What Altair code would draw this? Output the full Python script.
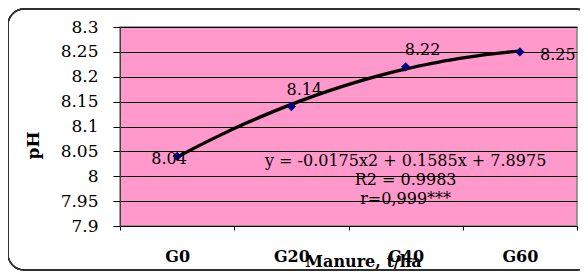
import altair as alt
import pandas as pd

categories = ["G0", "G20", "G40", "G60"]
ph_values = [8.04, 8.14, 8.22, 8.25]
label_texts = ["8.04", "8.14", "8.22", "8.25"]
y_ticks = [7.9, 7.95, 8.0, 8.05, 8.1, 8.15, 8.2, 8.25, 8.3]
annotation_lines = ["y = -0.0175x2 + 0.1585x + 7.8975", "R2 = 0.9983", "r=0,999***"]

df = pd.DataFrame({
    "cat": categories,
    "xi": list(range(1, len(categories) + 1)),
    "ph": ph_values,
    "lab": label_texts,
})
ann = pd.DataFrame({"xi": [3], "ph": [8.046], "txt": [annotation_lines]})

FONT = "DejaVu Serif"
PINK = "#FF99CC"

xvals = [0.5 + 0.5 * i for i in range(2 * len(categories) + 1)]
cat_js = "[" + ",".join("'" + c + "'" for c in categories) + "]"

xscale = alt.Scale(domain=[0.5, len(categories) + 0.5], nice=False, zero=False)
yscale = alt.Scale(domain=[7.9, 8.3], nice=False, zero=False)

xaxis = alt.Axis(
    values=xvals,
    labelExpr=f"datum.value % 1 == 0 ? {cat_js}[datum.value - 1] : ''",
    tickColor={"condition": {"test": "datum.value % 1 == 0", "value": "transparent"}, "value": "black"},
    tickSize=4,
    grid=False,
    domainColor="black",
    labelOverlap=False,
    labelBound=False,
    labelFlush=False,
    labelPadding=18,
    labelFont=FONT,
    labelFontSize=16,
    labelFontWeight="bold",
    labelColor="black",
    title="Manure, t/ha",
    titleFont=FONT,
    titleFontSize=16,
    titleFontWeight="bold",
    titleColor="black",
    titleX=243,
    titleY=40,
    titleBaseline="alphabetic",
)
yaxis = alt.Axis(
    values=y_ticks,
    format="~g",
    grid=True,
    gridColor="black",
    gridWidth=1,
    gridOpacity=1,
    tickColor="black",
    tickSize=7,
    domainColor="#404040",
    labelOverlap=False,
    labelBound=False,
    labelFlush=False,
    labelPadding=15,
    labelFont=FONT,
    labelFontSize=17,
    labelColor="black",
    title="pH",
    titleFont=FONT,
    titleFontSize=17,
    titleFontWeight="bold",
    titleColor="black",
    titleX=-87,
    titleY=118,
    titleAngle=-90,
    titleBaseline="middle",
    titleAlign="center",
)

X = alt.X("xi:Q", scale=xscale, axis=xaxis)
Y = alt.Y("ph:Q", scale=yscale, axis=yaxis)

base = alt.Chart(df)

frame = base.mark_rect(
    fill="transparent", fillOpacity=0, stroke="#303030", strokeWidth=1.3, cornerRadius=16
).encode(
    x=alt.value(-112), x2=alt.value(472), y=alt.value(-18), y2=alt.value(243)
)

trend = base.transform_regression(
    "xi", "ph", method="poly", order=2, extent=[1, len(categories)]
).mark_line(color="black", strokeWidth=3.3).encode(x=X, y=Y)

points = base.mark_point(shape="diamond", filled=True, color="#000080", size=85, opacity=1).encode(x=X, y=Y)

offsets = [(-8, 3), (13, -17), (17, -17), (38, 3)]
label_layers = []
for c, (dx, dy) in zip(categories, offsets):
    label_layers.append(
        base.transform_filter(alt.datum.cat == c)
        .mark_text(font=FONT, fontSize=16, color="black", dx=dx, dy=dy, baseline="middle")
        .encode(x=X, y=Y, text="lab:N")
    )

annot = alt.Chart(ann).mark_text(
    font=FONT, fontSize=16, color="black", baseline="top", align="center", lineHeight=19
).encode(x=X, y=Y, text="txt")

chart = alt.layer(trend, points, annot, *label_layers, frame).properties(
    width=457,
    height=199,
    background="white",
    autosize=alt.AutoSizeParams(type="none"),
    padding={"left": 112, "top": 19, "right": 3, "bottom": 46},
).configure_view(fill=PINK, stroke="#808080", strokeWidth=1.5)

chart.save("out.html", embed_options={"renderer": "svg", "actions": False})
